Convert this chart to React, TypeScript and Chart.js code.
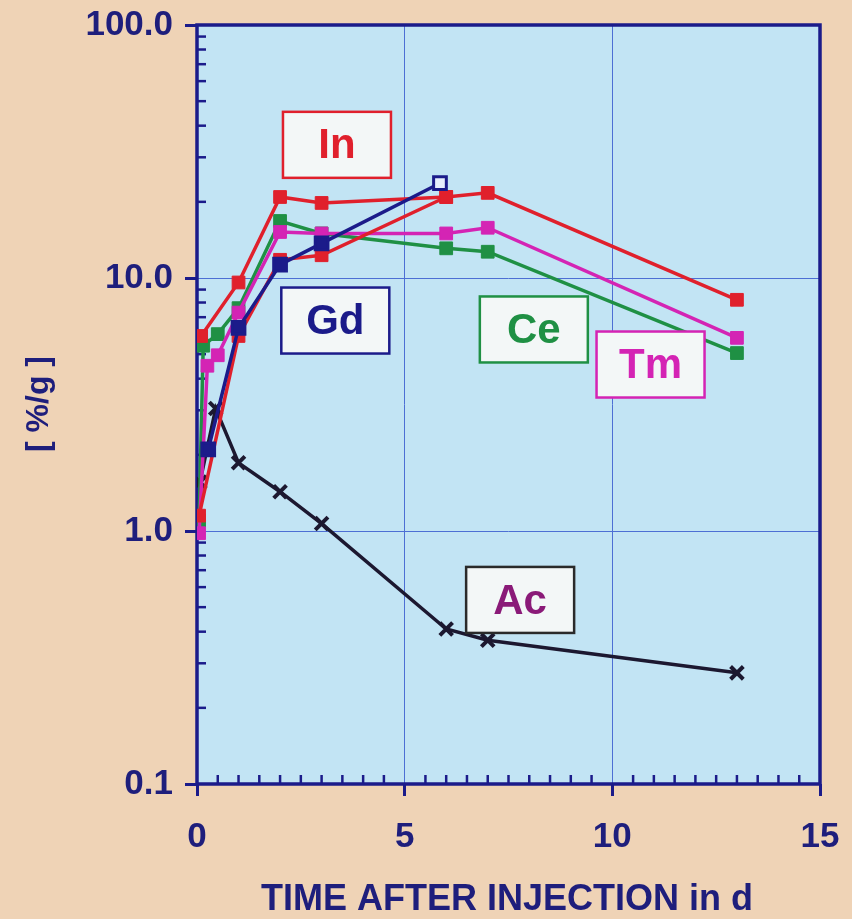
import React, { useEffect, useRef } from 'react';
import { Chart, registerables } from 'chart.js';

Chart.register(...registerables);

// ---- data ----
const inDays = [0.1, 1, 2, 3, 6, 7, 13];
const inValues = [5.9, 9.6, 20.9, 19.8, 20.9, 21.7, 8.2];

const in2Days = [0.05, 1, 2, 3, 6];
const in2Values = [1.15, 5.9, 11.8, 12.3, 20.9];

const tmDays = [0.05, 0.25, 0.5, 1, 2, 3, 6, 7, 13];
const tmValues = [0.98, 4.5, 4.95, 7.3, 15.2, 15.0, 15.0, 15.8, 5.8];

const ceDays = [0.05, 0.15, 0.5, 1, 2, 3, 6, 7, 13];
const ceValues = [1.1, 5.4, 6.0, 7.6, 16.8, 15.0, 13.1, 12.7, 5.05];

const gdDays = [0.27, 1, 2, 3, 5.85];
const gdValues = [2.1, 6.35, 11.3, 13.7, 23.7];

const acDays = [0.07, 0.45, 1, 2, 3, 6, 7, 13];
const acValues = [1.56, 3.05, 1.86, 1.43, 1.07, 0.41, 0.37, 0.275];

const yTickValues = [0.1, 1, 10, 100];
const xTickValues = [0, 5, 10, 15];

const labelNames = ['In', 'Gd', 'Ce', 'Tm', 'Ac'];
const labelDays = [3.37, 3.33, 8.11, 10.92, 7.78];
const labelLevels = [33.6, 6.79, 6.26, 4.55, 0.534];

// ---- styles ----
const RED = '#e0202c';
const GREEN = '#1f9044';
const MAGENTA = '#d424b4';
const NAVY = '#1b1b8a';
const BLACK = '#1c1830';
const TEXT = '#1e1e7c';
const PAGE = '#efd3b6';
const PLOT = '#c2e4f4';
const FONT = '"Liberation Sans", Arial, sans-serif';
const labelColors = [RED, NAVY, GREEN, MAGENTA, '#8a1a78'];
const labelBorders = [RED, NAVY, GREEN, MAGENTA, '#2a2a2a'];

const pts = (xs: number[], ys: number[]) => xs.map((x, i) => ({ x, y: ys[i] }));

const decorPlugin = {
  id: 'decor',
  beforeDraw(chart: any) {
    const { ctx, chartArea: a } = chart;
    ctx.save();
    ctx.fillStyle = PAGE;
    ctx.fillRect(0, 0, chart.width, chart.height);
    ctx.fillStyle = PLOT;
    ctx.fillRect(a.left, a.top, a.right - a.left, a.bottom - a.top);
    ctx.restore();
  },
  beforeDatasetsDraw(chart: any) {
    const { ctx, chartArea: a, scales } = chart;
    const xs = scales.x;
    const ys = scales.y;
    ctx.save();
    ctx.strokeStyle = NAVY;
    ctx.lineWidth = 2.5;
    for (let d = 0.1; d < 100; d *= 10) {
      for (let m = 2; m <= 9; m++) {
        const py = ys.getPixelForValue(d * m);
        ctx.beginPath();
        ctx.moveTo(a.left, py);
        ctx.lineTo(a.left + 9, py);
        ctx.stroke();
      }
    }
    for (let v = 0.5; v < 15; v += 0.5) {
      if (Math.abs(v % 5) < 1e-6) continue;
      const px = xs.getPixelForValue(v);
      ctx.beginPath();
      ctx.moveTo(px, a.bottom);
      ctx.lineTo(px, a.bottom - 9);
      ctx.stroke();
    }
    ctx.lineWidth = 3.5;
    ctx.strokeRect(a.left, a.top, a.right - a.left, a.bottom - a.top);
    ctx.restore();
  },
  afterDatasetsDraw(chart: any) {
    const { ctx, scales } = chart;
    const xs = scales.x;
    const ys = scales.y;
    ctx.save();
    const w = 108;
    const h = 66;
    labelNames.forEach((name, i) => {
      const cx = xs.getPixelForValue(labelDays[i]);
      const cy = ys.getPixelForValue(labelLevels[i]);
      ctx.fillStyle = '#f3f7f7';
      ctx.fillRect(cx - w / 2, cy - h / 2, w, h);
      ctx.strokeStyle = labelBorders[i];
      ctx.lineWidth = 2.5;
      ctx.strokeRect(cx - w / 2, cy - h / 2, w, h);
      ctx.fillStyle = labelColors[i];
      ctx.font = `bold 42px ${FONT}`;
      ctx.textAlign = 'center';
      ctx.textBaseline = 'middle';
      ctx.fillText(name, cx, cy + 2);
    });
    ctx.fillStyle = TEXT;
    ctx.font = `bold 36px ${FONT}`;
    ctx.textAlign = 'center';
    ctx.textBaseline = 'middle';
    ctx.fillText('TIME AFTER INJECTION in d', 507, 900);
    ctx.font = `bold 32px ${FONT}`;
    ctx.translate(39, 404);
    ctx.rotate(-Math.PI / 2);
    ctx.fillText('[ %/g ]', 0, 0);
    ctx.restore();
  },
};

export default function App() {
  const ref = useRef<HTMLCanvasElement>(null);

  useEffect(() => {
    document.body.style.margin = '0';
    const canvas = ref.current!;
    const line = (label: string, xs: number[], ys: number[], color: string, extra: any = {}) => ({
      label,
      data: pts(xs, ys),
      borderColor: color,
      backgroundColor: color,
      pointBackgroundColor: color,
      pointBorderColor: color,
      borderWidth: 3.5,
      pointStyle: 'rect',
      pointRadius: 9,
      pointBorderWidth: 1,
      tension: 0,
      ...extra,
    });
    const chart = new Chart(canvas, {
      type: 'line',
      data: {
        datasets: [
          line('Gd', gdDays, gdValues, NAVY, {
            order: 0,
            pointBackgroundColor: gdDays.map((_, i) => (i === gdDays.length - 1 ? '#e6eefc' : NAVY)),
            pointBorderWidth: 3,
          }),
          line('In', inDays, inValues, RED, { order: 1 }),
          line('In (2)', in2Days, in2Values, RED, { order: 2 }),
          line('Tm', tmDays, tmValues, MAGENTA, { order: 3 }),
          line('Ce', ceDays, ceValues, GREEN, { order: 4 }),
          line('Ac', acDays, acValues, BLACK, {
            order: 5,
            pointStyle: 'crossRot',
            pointRadius: 9,
            pointBorderWidth: 4,
          }),
        ],
      },
      options: {
        responsive: false,
        animation: false,
        devicePixelRatio: 1,
        layout: { padding: { top: 25, right: 32, left: 0, bottom: 0 } },
        plugins: {
          legend: { display: false },
          tooltip: { enabled: false },
          title: { display: false },
        },
        scales: {
          x: {
            type: 'linear',
            min: 0,
            max: 15,
            afterBuildTicks: (s: any) => {
              s.ticks = xTickValues.map((v) => ({ value: v }));
            },
            afterFit: (s: any) => {
              s.height = 135;
              s.paddingLeft = 0;
              s.paddingRight = 0;
            },
            ticks: {
              color: TEXT,
              font: { family: FONT, size: 35, weight: 'bold' },
              padding: 20,
              maxRotation: 0,
            },
            grid: {
              color: '#4d6fd4',
              lineWidth: 1,
              tickColor: NAVY,
              tickWidth: 3,
              tickLength: 12,
            },
            border: { display: false },
          },
          y: {
            type: 'logarithmic',
            min: 0.1,
            max: 100,
            afterBuildTicks: (s: any) => {
              s.ticks = yTickValues.map((v) => ({ value: v }));
            },
            afterFit: (s: any) => {
              s.width = 197;
              s.paddingTop = 0;
              s.paddingBottom = 0;
            },
            ticks: {
              color: TEXT,
              font: { family: FONT, size: 35, weight: 'bold' },
              padding: 12,
              callback: (v: any) => Number(v).toFixed(1),
            },
            grid: {
              color: '#4d6fd4',
              lineWidth: 1,
              tickColor: NAVY,
              tickWidth: 3,
              tickLength: 12,
            },
            border: { display: false },
          },
        },
      },
      plugins: [decorPlugin],
    } as any);
    return () => chart.destroy();
  }, []);

  return (
    <div style={{ position: 'fixed', left: 0, top: 0, width: 852, height: 919, background: PAGE }}>
      <canvas ref={ref} width={852} height={919} style={{ display: 'block' }} />
    </div>
  );
}
